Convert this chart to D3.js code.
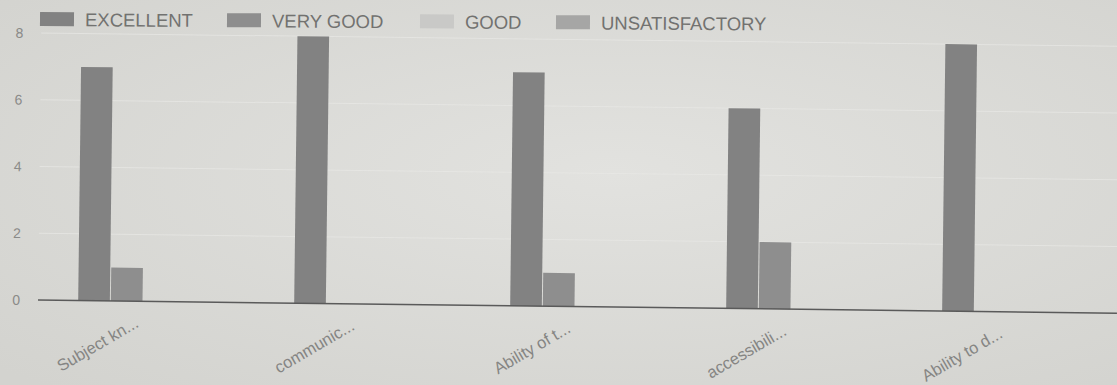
<!DOCTYPE html>
<html><head><meta charset="utf-8">
<script src="https://cdn.jsdelivr.net/npm/d3@7"></script>
<style>html,body{margin:0;padding:0;background:#dcdcd8;overflow:hidden}</style>
</head><body>
<svg id="c" width="1117" height="385"></svg>
<script>
const categories = ["Subject kn...", "communic...", "Ability of t...", "accessibili...", "Ability to d..."];
const seriesNames = ["EXCELLENT", "VERY GOOD", "GOOD", "UNSATISFACTORY"];
const excellent = [7, 8, 7, 6, 8];
const veryGood = [1, 0, 1, 2, 0];
const good = [0, 0, 0, 0, 0];
const unsatisfactory = [0, 0, 0, 0, 0];
const yTicks = [0, 2, 4, 6, 8];
const colors = ["#828282", "#8e8e8e", "#c9c9c7", "#a6a6a5"];

const series = [excellent, veryGood, good, unsatisfactory];
const FONT = "Arial, Liberation Sans, sans-serif";
const svg = d3.select("#c");
const defs = svg.append("defs");
const grad = defs.append("radialGradient").attr("id","bg").attr("cx","55%").attr("cy","45%").attr("r","75%");
grad.append("stop").attr("offset","0%").attr("stop-color","#e2e2df");
grad.append("stop").attr("offset","100%").attr("stop-color","#d3d3cf");
svg.append("rect").attr("width",1117).attr("height",385).attr("fill","url(#bg)");

const g = svg.append("g").attr("transform","rotate(0.7,38,300)");
const x0 = d3.scaleBand().domain(categories).range([35,1115]).paddingInner(0.4).paddingOuter(0.2);
const x1 = d3.scaleBand().domain(seriesNames).range([0, x0.bandwidth()]).paddingInner(0.03);
const y = d3.scaleLinear().domain([0,8]).range([300,33]);

// grid
g.selectAll("line.grid").data(yTicks.slice(1)).join("line")
 .attr("x1",38).attr("x2",1117).attr("y1",d=>y(d)).attr("y2",d=>y(d))
 .attr("stroke","#e8e8e5").attr("stroke-opacity",0.7).attr("stroke-width",1);

// y axis labels
const yAxis = d3.axisLeft(y).tickValues(yTicks).tickSize(0).tickPadding(0);
const ya = g.append("g").attr("transform","translate(20,0)").call(yAxis);
ya.select(".domain").remove();
ya.selectAll("text").attr("font-family",FONT).attr("font-size",14).attr("fill","#8a8a88");

// bars
categories.forEach((c,i)=>{
  series.forEach((s,j)=>{
    if (s[i] > 0) {
      g.append("rect").attr("x", x0(c)+x1(seriesNames[j])).attr("width", x1.bandwidth())
       .attr("y", y(s[i])).attr("height", y(0)-y(s[i])).attr("fill", colors[j]);
    }
  });
});

// baseline
g.append("line").attr("x1",38).attr("x2",1117).attr("y1",y(0)).attr("y2",y(0)).attr("stroke","#5a5a5a").attr("stroke-width",1.5);

// x labels
const xAxis = d3.axisBottom(x0).tickSize(0).tickPadding(0);
const xa = g.append("g").attr("transform",`translate(-6,${y(0)+20})`).call(xAxis);
xa.select(".domain").remove();
xa.selectAll("text").attr("font-family",FONT).attr("font-size",16.5).attr("fill","#858583")
  .attr("text-anchor","end").attr("dy","0.35em").attr("transform","rotate(-31)");

// legend
const legX = [40, 227, 420, 556];
const leg = svg.append("g").attr("transform","rotate(0.35,40,19)");
seriesNames.forEach((n,j)=>{
  leg.append("rect").attr("x",legX[j]).attr("y",12).attr("width",34).attr("height",14).attr("fill",colors[j]);
  leg.append("text").attr("x",legX[j]+45).attr("y",26).text(n)
   .attr("font-family",FONT).attr("font-size",18.5).attr("fill","#727270");
});
</script>
</body></html>
